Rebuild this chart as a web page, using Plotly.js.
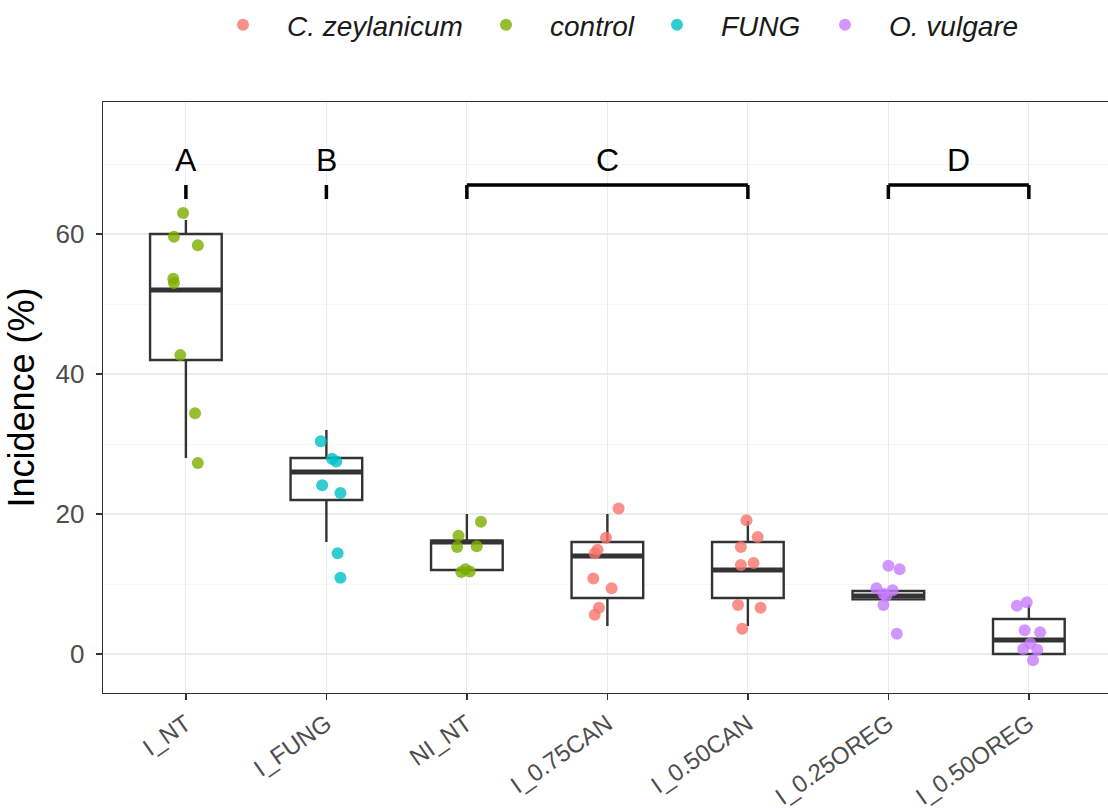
<!DOCTYPE html>
<html><head><meta charset="utf-8">
<script src="https://cdn.plot.ly/plotly-3.0.1.min.js"></script>
<style>html,body{margin:0;padding:0;overflow:hidden;background:#fff}</style>
</head><body><div id="chart"></div>
<script>
// ---- data ----
const categories = ['I_NT','I_FUNG','NI_NT','I_0.75CAN','I_0.50CAN','I_0.25OREG','I_0.50OREG'];
const species = ['C. zeylanicum','control','FUNG','O. vulgare'];
const speciesColors = ['#F8766D','#7CAE00','#00BFC4','#C77CFF'];
const groupSpecies = ['control','FUNG','control','C. zeylanicum','C. zeylanicum','O. vulgare','O. vulgare'];

const boxQ1     = [42, 22, 12,   8,  8, 7.8, 0];
const boxMedian = [52, 26, 16,  14, 12, 8.3, 2];
const boxQ3     = [60, 28, 16.2,16, 16, 9,   5];
const boxLower  = [28, 16, 12,   4,  4, 7.8, 0];
const boxUpper  = [62, 32, 20,  20, 19, 9,   7];

const incidenceINT   = [63.0, 59.6, 58.4, 53.6, 53.0, 42.7, 34.4, 27.3];
const jitterINT      = [-0.02,-0.085,0.085,-0.09,-0.085,-0.04,0.065,0.085];
const incidenceIFUNG = [30.4, 27.9, 27.5, 24.1, 23.0, 14.4, 10.9];
const jitterIFUNG    = [-0.04,0.04, 0.07,-0.03, 0.10, 0.08, 0.10];
const incidenceNINT  = [18.9, 16.9, 15.3, 15.4, 12.1, 11.8, 11.7];
const jitterNINT     = [0.10,-0.06,-0.07, 0.07,-0.01, 0.02,-0.04];
const incidence075   = [20.8, 16.6, 14.9, 14.4, 10.8, 9.4, 6.6, 5.6];
const jitter075      = [0.08,-0.01,-0.07,-0.09,-0.10, 0.03,-0.06,-0.09];
const incidence050   = [19.1, 16.7, 15.3, 13.0, 12.7, 7.0, 6.6, 3.6];
const jitter050      = [-0.01,0.07,-0.05, 0.04,-0.05,-0.07,0.09,-0.04];
const incidence025O  = [12.6, 12.1, 9.4, 9.1, 8.6, 8.3, 7.0, 2.9];
const jitter025O     = [0.00, 0.08,-0.085,0.03,-0.035,-0.015,-0.035,0.06];
const incidence050O  = [7.4, 6.9, 3.4, 3.1, 1.5, 0.7, 0.6, -0.9];
const jitter050O     = [-0.015,-0.085,-0.03,0.08,0.01,-0.04,0.06,0.03];

const groupIncidence = [incidenceINT, incidenceIFUNG, incidenceNINT, incidence075, incidence050, incidence025O, incidence050O];
const groupJitter    = [jitterINT, jitterIFUNG, jitterNINT, jitter075, jitter050, jitter025O, jitter050O];

const letterLabels = ['A','B','C','D'];
const letterFrom   = ['I_NT','I_FUNG','NI_NT','I_0.25OREG'];
const letterTo     = ['I_NT','I_FUNG','I_0.50CAN','I_0.50OREG'];
const bracketY = 67.0, bracketTickY = 65.0, letterY = 70.6;

const yTicks = [0, 20, 40, 60];

// ---- build traces ----
const idx = categories.map((c,i)=>i);
const BOXW = 0.51;
const traces = [];
traces.push({
  type:'box', x: idx, q1: boxQ1, median: boxMedian, q3: boxQ3,
  lowerfence: boxLower, upperfence: boxUpper, width: BOXW, whiskerwidth: 0,
  fillcolor:'#FFFFFF', line:{color:'#333333', width:2.4}, boxpoints:false,
  showlegend:false, hoverinfo:'skip'
});
const mx = [], my = [];
idx.forEach(i=>{ mx.push(i-BOXW/2, i+BOXW/2, null); my.push(boxMedian[i], boxMedian[i], null); });
traces.push({type:'scatter', mode:'lines', x:mx, y:my, line:{color:'#333333', width:4.8},
  showlegend:false, hoverinfo:'skip'});

const legendIds = ['legend','legend2','legend3','legend4'];
species.forEach((sp, s)=>{
  const xs = [], ys = [];
  idx.forEach(i=>{
    if (groupSpecies[i] !== sp) return;
    groupIncidence[i].forEach((v,k)=>{ xs.push(i + groupJitter[i][k]); ys.push(v); });
  });
  traces.push({type:'scatter', mode:'markers', name: sp, x: xs, y: ys, legend: legendIds[s],
    marker:{color: speciesColors[s], size:12, opacity:0.8, line:{width:0}}});
});

// ---- letters & brackets ----
const shapes = [], annotations = [];
letterLabels.forEach((L, j)=>{
  const a = categories.indexOf(letterFrom[j]), b = categories.indexOf(letterTo[j]);
  const ln = {type:'line', xref:'x', yref:'y', line:{color:'#000000', width:3.5}};
  if (a !== b) shapes.push(Object.assign({x0:a, x1:b, y0:bracketY, y1:bracketY}, ln));
  shapes.push(Object.assign({x0:a, x1:a, y0:bracketTickY, y1:bracketY}, ln));
  if (a !== b) shapes.push(Object.assign({x0:b, x1:b, y0:bracketTickY, y1:bracketY}, ln));
  annotations.push({xref:'x', yref:'y', x:(a+b)/2, y:letterY, text:L, showarrow:false,
    yanchor:'middle', font:{family:'Liberation Sans, Arial, sans-serif', size:32, color:'#000000'}});
});

const W = 1125;
const legendLeft = [199, 462, 633, 801];
function mkLegend(px){
  return {orientation:'h', xref:'container', yref:'container', x: px / W, y:0.969,
    xanchor:'left', yanchor:'middle', itemwidth:78,
    font:{size:28, style:'italic', color:'#1A1A1A'}, bgcolor:'rgba(0,0,0,0)'};
}

const layout = {
  width:W, height:811,
  margin:{l:103, r:11, t:102, b:118},
  paper_bgcolor:'#FFFFFF', plot_bgcolor:'#FFFFFF',
  font:{family:'Liberation Sans, Arial, sans-serif', color:'#4D4D4D'},
  showlegend:true,
  legend: mkLegend(legendLeft[0]),
  legend2: mkLegend(legendLeft[1]),
  legend3: mkLegend(legendLeft[2]),
  legend4: mkLegend(legendLeft[3]),
  xaxis:{range:[-0.59, 6.606], tickmode:'array', tickvals: idx, ticktext: categories,
    tickangle:-35, tickfont:{size:24, color:'#4D4D4D'},
    showgrid:true, gridcolor:'#EBEBEB', gridwidth:1.2, zeroline:false,
    showline:true, mirror:true, linecolor:'#333333', linewidth:1.4,
    ticks:'outside', ticklen:6, tickwidth:1.5, tickcolor:'#333333'},
  yaxis:{range:[-5.57, 78.86], tickmode:'array', tickvals: yTicks,
    tickfont:{size:26, color:'#4D4D4D'}, ticklabelstandoff:6,
    title:{text:'Incidence (%)', font:{size:36, color:'#000000'}, standoff:10},
    showgrid:true, gridcolor:'#EBEBEB', gridwidth:1.2, zeroline:false,
    minor:{dtick:10, tick0:0, showgrid:true, gridcolor:'#F4F4F4', gridwidth:0.8},
    showline:true, mirror:true, linecolor:'#333333', linewidth:1.4,
    ticks:'outside', ticklen:6, tickwidth:1.5, tickcolor:'#333333'},
  shapes: shapes, annotations: annotations
};
Plotly.newPlot('chart', traces, layout, {displayModeBar:false, staticPlot:true});
</script></body></html>
